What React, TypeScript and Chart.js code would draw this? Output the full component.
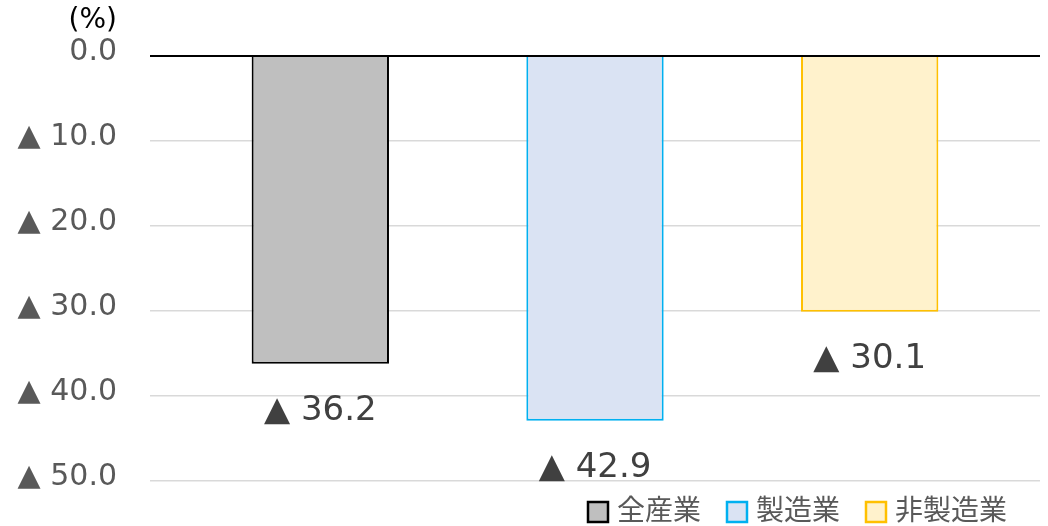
import React, { useEffect, useRef } from 'react';
import { Chart, registerables } from 'chart.js';

Chart.register(...registerables);

// Year-on-year change by sector (%), declines shown with ▲
const categories = ['全産業', '製造業', '非製造業'];
const changeRates = [-36.2, -42.9, -30.1];
const fillColors = ['#bfbfbf', '#dae3f3', '#fff2cc'];
const edgeColors = ['#000000', '#00b0f0', '#ffc000'];
const yMin = -50;
const yMax = 0;
const yStep = 10;
const unitLabel = '(%)';

const FONT = "'DejaVu Sans', 'Noto Sans CJK JP', sans-serif";

const formatRate = (v: number): string =>
  v === 0 ? '0.0' : `${v < 0 ? '▲ ' : ''}${Math.abs(v).toFixed(1)}`;

// Value labels under each bar, the unit caption and the legend row
const annotationsPlugin = {
  id: 'annotations',
  afterDatasetsDraw(chart: any) {
    const { ctx, chartArea } = chart;
    const meta = chart.getDatasetMeta(0);
    ctx.save();

    ctx.font = `34px ${FONT}`;
    ctx.fillStyle = '#404040';
    ctx.textAlign = 'center';
    ctx.textBaseline = 'alphabetic';
    meta.data.forEach((bar: any, i: number) => {
      ctx.fillText(formatRate(changeRates[i]), bar.x, bar.y + 56);
    });

    ctx.font = `28px ${FONT}`;
    ctx.fillStyle = '#000000';
    ctx.textAlign = 'right';
    ctx.fillText(unitLabel, chartArea.left - 33, 28);

    ctx.font = `28px ${FONT}`;
    ctx.textAlign = 'left';
    ctx.textBaseline = 'middle';
    const box = 20;
    const gap = 8;
    const itemGap = 25;
    const widths = categories.map((c) => box + 2 + gap + ctx.measureText(c).width);
    const total = widths.reduce((a, b) => a + b, 0) + itemGap * (categories.length - 1);
    let x = chartArea.right - 33 - total;
    const cy = chartArea.bottom + 31;
    categories.forEach((c, i) => {
      ctx.fillStyle = fillColors[i];
      ctx.strokeStyle = edgeColors[i];
      ctx.lineWidth = 2.5;
      ctx.fillRect(x + 1, cy - 10, box, box);
      ctx.strokeRect(x + 1, cy - 10, box, box);
      ctx.fillStyle = '#595959';
      ctx.fillText(c, x + box + 2 + gap, cy + 1);
      x += widths[i] + itemGap;
    });

    ctx.restore();
  },
};

export default function App() {
  const canvasRef = useRef<HTMLCanvasElement | null>(null);

  useEffect(() => {
    if (!canvasRef.current) return;
    const chart = new Chart(canvasRef.current, {
      type: 'bar',
      data: {
        datasets: [
          {
            label: '前年比',
            data: changeRates.map((v, i) => ({ x: i, y: v })),
            backgroundColor: fillColors,
            borderColor: edgeColors,
            borderWidth: 2,
            barPercentage: 0.5,
            categoryPercentage: 1,
          },
        ],
      },
      options: {
        responsive: false,
        animation: false,
        layout: { padding: { top: 56, right: 8, bottom: 45, left: 0 } },
        plugins: {
          legend: { display: false },
          tooltip: { enabled: false },
        },
        scales: {
          x: {
            type: 'linear',
            min: -0.62,
            max: categories.length - 1 + 0.62,
            offset: false,
            display: false,
            grid: { display: false },
            // one tick per sector so bar widths follow the sector spacing
            afterBuildTicks: (scale: any) => {
              scale.ticks = categories.map((_, i) => ({ value: i }));
            },
          },
          y: {
            min: yMin,
            max: yMax,
            afterFit: (scale: any) => {
              scale.width = 150;
            },
            border: { display: false },
            grid: {
              drawTicks: true,
              tickLength: 33,
              tickColor: 'rgba(0,0,0,0)',
              color: (c: any) => (c.tick && c.tick.value === 0 ? '#000000' : '#d9d9d9'),
              lineWidth: (c: any) => (c.tick && c.tick.value === 0 ? 2 : 1.5),
            },
            ticks: {
              stepSize: yStep,
              padding: 0,
              labelOffset: -4,
              color: '#595959',
              font: { family: FONT, size: 30 },
              callback: (v: any) => formatRate(Number(v)),
            },
          },
        },
      },
      plugins: [annotationsPlugin],
    });
    return () => chart.destroy();
  }, []);

  return (
    <div style={{ position: 'absolute', left: 0, top: 0, width: 1048, height: 526 }}>
      <canvas ref={canvasRef} width={1048} height={526} style={{ display: 'block' }} />
    </div>
  );
}
